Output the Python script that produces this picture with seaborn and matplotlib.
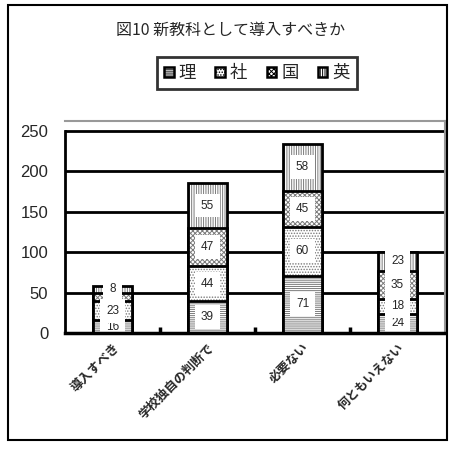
import matplotlib
matplotlib.use("Agg")
import matplotlib.pyplot as plt
from matplotlib.patches import Rectangle, Patch
import numpy as np
import pandas as pd
import seaborn as sns

# Survey results: should it be introduced as a new subject?
categories = ["導入すべき", "学校独自の判断で", "必要ない", "何ともいえない"]
subjects = ["理", "社", "国", "英"]
rika = [16, 39, 71, 24]
shakai = [23, 44, 60, 18]
kokugo = [11, 47, 45, 35]
eigo = [8, 55, 58, 23]
# which segments carry a printed value
show_label = {
    "理": [True, True, True, True],
    "社": [True, True, True, True],
    "国": [False, True, True, True],
    "英": [True, True, True, True],
}
yticks = [0, 50, 100, 150, 200, 250]
title = "図10 新教科として導入すべきか"

series = {"理": rika, "社": shakai, "国": kokugo, "英": eigo}
hatches = {"理": "--------", "社": "......", "国": "xxxxxxx", "英": "|||||||"}

sns.set_theme(style="white")
plt.rcParams["font.family"] = ["Noto Sans CJK JP", "DejaVu Sans"]
plt.rcParams["hatch.color"] = "#7a7a7a"
plt.rcParams["hatch.linewidth"] = 0.7

fig = plt.figure(figsize=(4.55, 4.5), dpi=100)
ax = fig.add_axes([65 / 455, 1 - 333 / 450, 380 / 455, 212 / 450])

df = pd.DataFrame(series, index=categories)
cum = df.cumsum(axis=1)

# draw tallest stack first, then overlay each lower cumulative total
bar_w = 0.42
for k, subj in enumerate(reversed(subjects)):
    n_before = len(ax.patches)
    sns.barplot(x=categories, y=cum[subj].values, color="white",
                width=bar_w, ax=ax, saturation=1)
    for p in ax.patches[n_before:]:
        p.set_facecolor("white")
        p.set_hatch(hatches[subj])
        p.set_edgecolor("#7a7a7a")
        p.set_linewidth(0)
        p.set_zorder(3 + 2 * k)
    n_before = len(ax.patches)
    sns.barplot(x=categories, y=cum[subj].values, color="white",
                width=bar_w, ax=ax, saturation=1, fill=False)
    for p in ax.patches[n_before:]:
        p.set_edgecolor("black")
        p.set_linewidth(2.0)
        p.set_facecolor("none")
        p.set_zorder(4 + 2 * k)

# value labels in white boxes
for i, cat in enumerate(categories):
    base = 0
    for subj in subjects:
        v = df.loc[cat, subj]
        if show_label[subj][i]:
            ax.text(i, base + v / 2, str(v), ha="center", va="center",
                    fontsize=8.5, family=["Liberation Sans"], zorder=20,
                    bbox=dict(boxstyle="square,pad=0.5", fc="white",
                              ec="none"))
        base += v

ax.set_xlim(-0.5, 3.5)
ax.set_ylim(0, 262)
ax.set_yticks(yticks)
ax.set_yticklabels([str(t) for t in yticks], family=["Liberation Sans"],
                   fontsize=12)
for t in yticks[1:]:
    ax.axhline(t, color="black", lw=2, zorder=1)

ax.set_xticks(range(len(categories)))
ax.set_xticklabels(categories, rotation=45, ha="right",
                   rotation_mode="anchor", fontsize=9, fontweight="bold")
ax.set_xticks([0.5, 1.5, 2.5], minor=True)
ax.tick_params(axis="x", which="major", length=0, pad=6)
ax.tick_params(axis="x", which="minor", direction="in", length=4, width=2.5,
               color="black", bottom=True)
ax.tick_params(axis="y", length=0, pad=12)
ax.set_xlabel("")
ax.set_ylabel("")

ax.spines["left"].set_color("black")
ax.spines["left"].set_linewidth(2)
ax.spines["left"].set_bounds(0, 250)
ax.spines["bottom"].set_color("black")
ax.spines["bottom"].set_linewidth(2.5)
ax.spines["bottom"].set_zorder(30)
for s in ["top", "right"]:
    ax.spines[s].set_color("#999999")
    ax.spines[s].set_linewidth(1.5)
    ax.spines[s].set_visible(True)

fig.text(0.507, 1 - 30 / 450, title, ha="center", va="center", fontsize=11.5)

handles = [Patch(facecolor="white", edgecolor="black", hatch=hatches[s],
                 linewidth=1.8) for s in subjects]
leg = fig.legend(handles, subjects, loc="center", ncol=4,
                 bbox_to_anchor=(257 / 455, 1 - 73 / 450), fontsize=12.5,
                 frameon=True, fancybox=False, handlelength=0.55,
                 handleheight=0.55, handletextpad=0.3, columnspacing=1.1,
                 borderpad=0.4, edgecolor="black")
leg.get_frame().set_linewidth(2)
for h in leg.legend_handles:
    h.set_edgecolor("black")

fig.patches.append(Rectangle((8 / 455, 10 / 450), 439 / 455, 435 / 450,
                             transform=fig.transFigure, fill=False,
                             edgecolor="black", linewidth=1.5))

fig.savefig("out.png", dpi=100, facecolor="white")
